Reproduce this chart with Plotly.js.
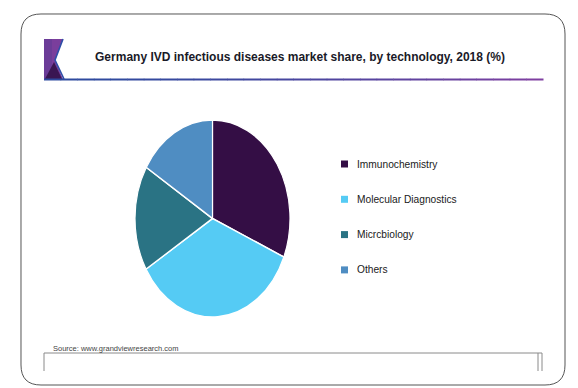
<!DOCTYPE html>
<html>
<head>
<meta charset="utf-8">
<script src="https://cdn.plot.ly/plotly-3.0.1.min.js"></script>
<style>
html,body{margin:0;padding:0;background:#fff;}
#chart{width:578px;height:388px;}
</style>
</head>
<body>
<div id="chart"></div>
<script>
// ---- data ----
const categories = ["Immunochemistry", "Molecular Diagnostics", "Microbiology", "Others"];
const legendLabels = ["Immunochemistry", "Molecular Diagnostics", "Micrcbiology", "Others"];
const shares = [31.4, 35.0, 17.3, 16.3];
const titleText = "Germany IVD infectious diseases market share, by technology, 2018 (%)";
const sourceText = "Source: www.grandviewresearch.com";

// ---- style ----
const colors = ["#340E45", "#55CBF4", "#2A7384", "#4F8DC2"];
const W = 578, H = 388;
const px = x => x / W;
const py = y => 1 - y / H;
const P = (x, y) => px(x).toFixed(5) + "," + py(y).toFixed(5);

const cx = 212.5, cy = 218.5, ry = 98.5, rx = 77.5;

const shapes = [];
// outer rounded border
const L = 21, T = 14, R = 565, B = 385, r = 20;
shapes.push({
  type: "path", xref: "paper", yref: "paper",
  path: "M" + P(L + r, T) + " L" + P(R - r, T) + " Q" + P(R, T) + " " + P(R, T + r) +
        " L" + P(R, B - r) + " Q" + P(R, B) + " " + P(R - r, B) +
        " L" + P(L + r, B) + " Q" + P(L, B) + " " + P(L, B - r) +
        " L" + P(L, T + r) + " Q" + P(L, T) + " " + P(L + r, T) + " Z",
  line: {color: "#555", width: 1}, fillcolor: "rgba(0,0,0,0)"
});
// icon
shapes.push({type: "path", xref: "paper", yref: "paper",
  path: "M" + P(44, 39) + " L" + P(63, 39) + " L" + P(55, 60) + " L" + P(63, 79) + " L" + P(44, 79) + " Z",
  fillcolor: "#7A3E9C", line: {width: 0}});
shapes.push({type: "path", xref: "paper", yref: "paper",
  path: "M" + P(44, 39) + " L" + P(52, 39) + " L" + P(52, 79) + " L" + P(44, 79) + " Z",
  fillcolor: "#6B3C98", line: {width: 0}});
shapes.push({type: "path", xref: "paper", yref: "paper",
  path: "M" + P(54, 62) + " L" + P(62, 79) + " L" + P(45, 79) + " Z",
  fillcolor: "#3A1652", line: {width: 0}});
shapes.push({type: "path", xref: "paper", yref: "paper",
  path: "M" + P(63, 39) + " L" + P(55, 60) + " L" + P(64, 79),
  line: {color: "#2E4EA8", width: 1.6}});
// title underline gradient
const c0 = [46, 74, 158], c1 = [126, 63, 160];
const segs = 30, x0 = 44, x1 = 543;
for (let i = 0; i < segs; i++) {
  const t = i / (segs - 1);
  const tt = Math.pow(t, 1.6);
  const col = "rgb(" + c0.map((v, k) => Math.round(v + (c1[k] - v) * tt)).join(",") + ")";
  shapes.push({type: "line", xref: "paper", yref: "paper",
    x0: px(x0 + (x1 - x0) * i / segs), x1: px(x0 + (x1 - x0) * (i + 1) / segs + 0.5),
    y0: py(79.5), y1: py(79.5), line: {color: col, width: 2}});
}
// bottom box
const bl = {color: "#8a8a8a", width: 1};
shapes.push({type: "line", xref: "paper", yref: "paper", x0: px(44), x1: px(542), y0: py(353), y1: py(353), line: bl});
shapes.push({type: "line", xref: "paper", yref: "paper", x0: px(44), x1: px(44), y0: py(353), y1: py(371), line: bl});
shapes.push({type: "line", xref: "paper", yref: "paper", x0: px(538), x1: px(538), y0: py(353), y1: py(371), line: bl});
shapes.push({type: "line", xref: "paper", yref: "paper", x0: px(542), x1: px(542), y0: py(353), y1: py(371), line: bl});

// legend built from categories
const annotations = [];
const legTop = 164, legGap = 35.3;
legendLabels.forEach((lab, i) => {
  const y = legTop + i * legGap;
  shapes.push({type: "rect", xref: "paper", yref: "paper",
    x0: px(341), x1: px(348), y0: py(y - 3.5), y1: py(y + 3.5),
    fillcolor: colors[i], line: {width: 0}});
  annotations.push({xref: "paper", yref: "paper", x: px(355), y: py(y),
    xanchor: "left", yanchor: "middle", showarrow: false, text: lab,
    font: {family: "Liberation Sans, Arial, sans-serif", size: 10.2, color: "#1a1a1a"}});
});
annotations.push({xref: "paper", yref: "paper", x: px(51), y: py(348),
  xanchor: "left", yanchor: "middle", showarrow: false, text: sourceText,
  font: {family: "Liberation Sans, Arial, sans-serif", size: 7.5, color: "#444"}});

const trace = {
  type: "pie",
  labels: categories,
  values: shares,
  sort: false,
  direction: "clockwise",
  rotation: 0,
  textinfo: "none",
  hoverinfo: "label+percent",
  marker: {colors: colors, line: {color: "#ffffff", width: 1.5}},
  domain: {x: [px(cx - ry), px(cx + ry)], y: [py(cy + ry), py(cy - ry)]},
  showlegend: false
};

const layout = {
  width: W, height: H,
  margin: {l: 0, r: 0, t: 0, b: 0},
  paper_bgcolor: "#ffffff",
  showlegend: false,
  title: {text: "<b>" + titleText + "</b>", x: px(300), xanchor: "center",
          y: py(57), yanchor: "middle",
          font: {family: "Liberation Sans, Arial, sans-serif", size: 12, color: "#1a1a28"}},
  shapes: shapes,
  annotations: annotations
};

Plotly.newPlot("chart", [trace], layout, {displayModeBar: false, staticPlot: true}).then(() => {
  const pl = document.querySelector(".pielayer");
  if (pl) {
    pl.setAttribute("transform",
      "translate(" + cx + " " + cy + ") scale(" + (rx / ry) + " 1) translate(" + (-cx) + " " + (-cy) + ")");
  }
});
</script>
</body>
</html>
